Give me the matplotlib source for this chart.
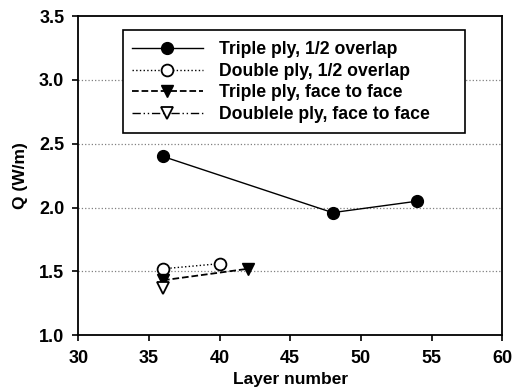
import matplotlib
matplotlib.use("Agg")
import matplotlib.pyplot as plt
from matplotlib.patches import Rectangle

plt.rcParams['font.family'] = ['Liberation Sans', 'DejaVu Sans']

tp_half_x = [36, 48, 54]
tp_half_y = [2.40, 1.96, 2.05]
dp_half_x = [36, 40]
dp_half_y = [1.52, 1.56]
tp_f2f_x = [36, 42]
tp_f2f_y = [1.43, 1.52]
dp_f2f_x = [36]
dp_f2f_y = [1.37]

labels = ["Triple ply, 1/2 overlap", "Double ply, 1/2 overlap",
          "Triple ply, face to face", "Doublele ply, face to face"]
xticks = [30, 35, 40, 45, 50, 55, 60]
yticks = [1.0, 1.5, 2.0, 2.5, 3.0, 3.5]

fig = plt.figure(figsize=(5.32, 3.92), dpi=100)
ax = fig.add_axes([0.147, 0.145, 0.797, 0.814])

ax.plot(tp_half_x, tp_half_y, '-', color='black', lw=1.0, marker='o', ms=8.5,
        mfc='black', mec='black', label=labels[0])
ax.plot(dp_half_x, dp_half_y, ':', color='black', lw=1.0, marker='o', ms=8.5,
        mfc='white', mec='black', mew=1.3, label=labels[1])
ax.plot(tp_f2f_x, tp_f2f_y, '--', color='black', lw=1.3, marker='v', ms=8.5,
        mfc='black', mec='black', label=labels[2])
ax.plot(dp_f2f_x, dp_f2f_y, '-.', color='black', lw=1.0, marker='v', ms=8.5,
        mfc='white', mec='black', mew=1.3, label=labels[3], dashes=[6, 2, 1, 2, 1, 2])

ax.set_xlim(30, 60)
ax.set_ylim(1.0, 3.5)
ax.set_xticks(xticks)
ax.set_yticks(yticks)
ax.set_xticklabels([str(v) for v in xticks], fontsize=13, fontweight='bold')
ax.set_yticklabels([f"{v:.1f}" for v in yticks], fontsize=13, fontweight='bold')
ax.tick_params(direction='out', length=4, width=1.2)
ax.tick_params(axis='x', pad=7)
ax.tick_params(axis='y', pad=6)
for s in ax.spines.values():
    s.set_linewidth(1.3)

for y in yticks[1:-1]:
    ax.axhline(y, color='gray', ls=':', lw=0.9, zorder=0)

ax.set_xlabel("Layer number", fontsize=12.5, fontweight='bold', labelpad=3)
ax.set_ylabel("Q (W/m)", fontsize=12.5, fontweight='bold', labelpad=8)

box = Rectangle((0.106, 0.633), 0.807, 0.323, transform=ax.transAxes,
                facecolor='white', edgecolor='black', lw=1.2, zorder=4)
ax.add_patch(box)

leg = ax.legend(loc='upper left', bbox_to_anchor=(0.127, 0.922), fontsize=12.7,
                prop={'weight': 'bold', 'size': 12.7},
                frameon=False, handlelength=4.0, borderpad=0, labelspacing=0.27,
                handletextpad=0.95, borderaxespad=0)
leg.set_zorder(5)

fig.savefig("out.png", dpi=100)
